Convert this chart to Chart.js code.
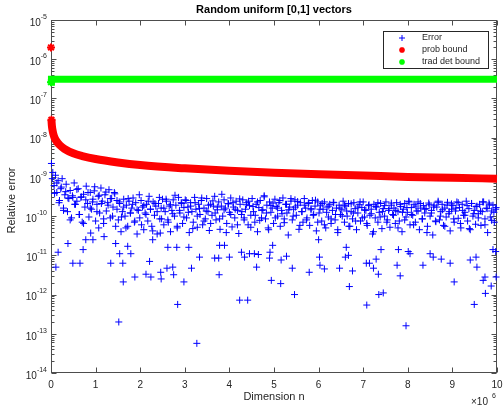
<!DOCTYPE html>
<html>
<head>
<meta charset="utf-8">
<title>Random uniform [0,1] vectors</title>
<script src="https://cdn.jsdelivr.net/npm/chart.js@4.4.1/dist/chart.umd.min.js"></script>
<style>
  html, body { margin: 0; padding: 0; background: #fff; }
  #wrap { width: 503px; height: 406px; }
</style>
</head>
<body>
<div id="wrap"><canvas id="chart" width="503" height="406"></canvas></div>
<script>
// Dimension n, in units of 10^6
const xTicks = [0, 1, 2, 3, 4, 5, 6, 7, 8, 9, 10];
// Decades on the relative error axis
const yExps = [-14, -13, -12, -11, -10, -9, -8, -7, -6, -5];

// Error samples (dense part)
const errX = [
  0.01,0.04,0.07,0.1,0.13,0.16,0.19,0.22,0.25,0.28,
  0.31,0.34,0.37,0.4,0.43,0.46,0.49,0.52,0.55,0.58,
  0.61,0.64,0.67,0.7,0.73,0.76,0.79,0.82,0.85,0.88,
  0.91,0.94,0.97,1,1.03,1.06,1.09,1.12,1.15,1.18,
  1.21,1.24,1.27,1.3,1.33,1.36,1.39,1.42,1.45,1.48,
  1.51,1.54,1.57,1.6,1.63,1.66,1.69,1.72,1.75,1.78,
  1.81,1.84,1.87,1.9,1.93,1.96,1.99,2.02,2.05,2.08,
  2.11,2.14,2.17,2.2,2.23,2.26,2.29,2.32,2.35,2.38,
  2.41,2.44,2.47,2.5,2.53,2.56,2.59,2.62,2.65,2.68,
  2.71,2.74,2.77,2.8,2.83,2.86,2.89,2.92,2.95,2.98,
  3.01,3.04,3.07,3.1,3.13,3.16,3.19,3.22,3.25,3.28,
  3.31,3.34,3.37,3.4,3.43,3.46,3.49,3.52,3.55,3.58,
  3.61,3.64,3.67,3.7,3.73,3.76,3.79,3.82,3.85,3.88,
  3.91,3.94,3.97,4,4.03,4.06,4.09,4.12,4.15,4.18,
  4.21,4.24,4.27,4.3,4.33,4.36,4.39,4.42,4.45,4.48,
  4.51,4.54,4.57,4.6,4.63,4.66,4.69,4.72,4.75,4.78,
  4.81,4.84,4.87,4.9,4.93,4.96,4.99,5.02,5.05,5.08,
  5.11,5.14,5.17,5.2,5.23,5.26,5.29,5.32,5.35,5.38,
  5.41,5.44,5.47,5.5,5.53,5.56,5.59,5.62,5.65,5.68,
  5.71,5.74,5.77,5.8,5.83,5.86,5.89,5.92,5.95,5.98,
  6.01,6.04,6.07,6.1,6.13,6.16,6.19,6.22,6.25,6.28,
  6.31,6.34,6.37,6.4,6.43,6.46,6.49,6.52,6.55,6.58,
  6.61,6.64,6.67,6.7,6.73,6.76,6.79,6.82,6.85,6.88,
  6.91,6.94,6.97,7,7.03,7.06,7.09,7.12,7.15,7.18,
  7.21,7.24,7.27,7.3,7.33,7.36,7.39,7.42,7.45,7.48,
  7.51,7.54,7.57,7.6,7.63,7.66,7.69,7.72,7.75,7.78,
  7.81,7.84,7.87,7.9,7.93,7.96,7.99,8.02,8.05,8.08,
  8.11,8.14,8.17,8.2,8.23,8.26,8.29,8.32,8.35,8.38,
  8.41,8.44,8.47,8.5,8.53,8.56,8.59,8.62,8.65,8.68,
  8.71,8.74,8.77,8.8,8.83,8.86,8.89,8.92,8.95,8.98,
  9.01,9.04,9.07,9.1,9.13,9.16,9.19,9.22,9.25,9.28,
  9.31,9.34,9.37,9.4,9.43,9.46,9.49,9.52,9.55,9.58,
  9.61,9.64,9.67,9.7,9.73,9.76,9.79,9.82,9.85,9.88,
  9.91,9.94,9.97
];
const errY = [
  2.2e-9,1.3e-9,6e-10,1.1e-9,4e-10,8e-10,2.5e-10,5e-10,9e-10,1.6e-10,
  3.5e-10,6.5e-10,1.3e-10,2.8e-10,4.5e-10,9e-11,3e-10,7e-10,2e-10,2.4e-10,
  5e-10,1.1e-10,3e-10,7e-11,3.6e-10,1.7e-10,5.8e-10,2.1e-10,9.5e-11,4e-10,
  1.5e-10,2.7e-10,4.4e-10,7.5e-11,2e-10,3.2e-10,1.2e-10,5.2e-10,2.4e-10,6.5e-11,
  3.5e-10,1.35e-10,2.2e-10,4.7e-10,9e-11,2.8e-10,1.7e-10,4e-10,5.5e-11,2.5e-10,
  8e-11,2.1e-10,4e-11,1.3e-10,2.7e-10,1e-10,1.9e-10,5.5e-11,2.4e-10,1.2e-10,
  1.6e-10,2.9e-10,7e-11,2.2e-10,3.5e-11,1.4e-10,9e-11,2.5e-10,1.7e-10,4.5e-11,
  1.2e-10,2e-10,7.5e-11,3.2e-10,1.5e-10,5.5e-11,2.3e-10,1.05e-10,1.8e-10,3.5e-11,
  2.1e-10,8.5e-11,1.6e-10,2.7e-10,6e-11,1.3e-10,2.4e-10,8e-11,1.8e-10,4e-11,
  1.4e-10,2.6e-10,1e-10,1.9e-10,5e-11,3e-10,1.2e-10,2.2e-10,6.5e-11,1.65e-10,
  2.6e-10,9e-11,1.7e-10,3.8e-11,2.2e-10,1.3e-10,7e-11,3e-10,1.5e-10,5.2e-11,
  2e-10,1.1e-10,2.5e-10,6e-11,1.6e-10,8.5e-11,2.8e-10,1.3e-10,4.3e-11,2e-10,
  1.05e-10,1.8e-10,3.2e-10,8e-11,1.45e-10,2.3e-10,4.6e-11,1.8e-10,1e-10,2.6e-10,
  1.6e-10,6.5e-11,2.1e-10,1.25e-10,2.9e-10,5.3e-11,1.7e-10,9e-11,2.4e-10,1.4e-10,
  3.6e-11,2e-10,1.1e-10,2.6e-10,8e-11,1.5e-10,2.2e-10,6e-11,1.85e-10,1.05e-10,
  2.8e-10,1.3e-10,7e-11,2e-10,4e-11,1.65e-10,2.5e-10,9e-11,1.45e-10,3.1e-10,
  8.5e-11,1.9e-10,5e-11,2.3e-10,1.25e-10,1.6e-10,6.5e-11,2.7e-10,1.75e-10,1e-10,
  2.2e-10,5.5e-11,1.4e-10,2.9e-10,8.5e-11,2e-10,1.2e-10,3.3e-11,1.7e-10,2.4e-10,
  8e-11,1.5e-10,2.6e-10,1.05e-10,1.9e-10,4.6e-11,2.2e-10,1.3e-10,7e-11,2.8e-10,
  1.6e-10,9e-11,2.1e-10,5.8e-11,1.45e-10,2.5e-10,1.1e-10,1.8e-10,4.2e-11,2.3e-10,
  1.2e-10,1.9e-10,7.5e-11,1.5e-10,2.3e-10,5e-11,1.7e-10,9.5e-11,2e-10,6.5e-11,
  1.4e-10,2.2e-10,8e-11,1.6e-10,3.8e-11,1.9e-10,1.1e-10,1.45e-10,2.4e-10,7e-11,
  1.8e-10,1e-10,2.1e-10,5.5e-11,1.3e-10,8.5e-11,2.2e-10,1.55e-10,4.5e-11,1.2e-10,
  1.95e-10,7.5e-11,1.65e-10,2.3e-10,9.5e-11,1.4e-10,5.8e-11,1.85e-10,1.05e-10,1.5e-10,
  3.5e-11,2e-10,9e-11,1.7e-10,7e-11,1.25e-10,2.1e-10,4.8e-11,1.55e-10,1e-10,
  2.3e-10,8e-11,1.4e-10,5.2e-11,1.9e-10,1.1e-10,1.6e-10,6.5e-11,2.2e-10,1.3e-10,
  7.5e-11,1.75e-10,4e-11,1.5e-10,2.1e-10,9.5e-11,1.25e-10,2.4e-10,6e-11,1.65e-10,
  1.05e-10,2e-10,7e-11,1.35e-10,2.3e-10,4.5e-11,1.6e-10,8.5e-11,1.85e-10,1.2e-10,
  1.55e-10,5.5e-11,2.15e-10,1e-10,1.4e-10,3.3e-11,1.9e-10,7.5e-11,1.7e-10,2.4e-10,
  8e-11,1.3e-10,2e-10,5.8e-11,1.6e-10,9.5e-11,2.25e-10,1.15e-10,4.2e-11,1.5e-10,
  1.85e-10,7e-11,1.35e-10,2.3e-10,8.8e-11,1.65e-10,5e-11,2e-10,1.05e-10,1.25e-10,
  2.4e-10,7.5e-11,1.55e-10,4.5e-11,2.1e-10,1e-10,1.4e-10,6.2e-11,1.8e-10,1.15e-10,
  2e-10,5.8e-11,1.3e-10,2.3e-10,8.5e-11,1.6e-10,3.8e-11,2.15e-10,9.5e-11,1.35e-10,
  1.9e-10,7e-11,1.5e-10
];

// Error samples (second pass through the band)
const err2X = [
  0.03,0.08,0.13,0.18,0.23,0.28,0.33,0.38,0.43,0.48,
  0.53,0.58,0.63,0.68,0.73,0.78,0.83,0.88,0.93,0.98,
  1.03,1.08,1.13,1.18,1.23,1.28,1.33,1.38,1.43,1.48,
  1.53,1.58,1.63,1.68,1.73,1.78,1.83,1.88,1.93,1.98,
  2.03,2.08,2.13,2.18,2.23,2.28,2.33,2.38,2.43,2.48,
  2.53,2.58,2.63,2.68,2.73,2.78,2.83,2.88,2.93,2.98,
  3.03,3.08,3.13,3.18,3.23,3.28,3.33,3.38,3.43,3.48,
  3.53,3.58,3.63,3.68,3.73,3.78,3.83,3.88,3.93,3.98,
  4.03,4.08,4.13,4.18,4.23,4.28,4.33,4.38,4.43,4.48,
  4.53,4.58,4.63,4.68,4.73,4.78,4.83,4.88,4.93,4.98,
  5.03,5.08,5.13,5.18,5.23,5.28,5.33,5.38,5.43,5.48,
  5.53,5.58,5.63,5.68,5.73,5.78,5.83,5.88,5.93,5.98,
  6.03,6.08,6.13,6.18,6.23,6.28,6.33,6.38,6.43,6.48,
  6.53,6.58,6.63,6.68,6.73,6.78,6.83,6.88,6.93,6.98,
  7.03,7.08,7.13,7.18,7.23,7.28,7.33,7.38,7.43,7.48,
  7.53,7.58,7.63,7.68,7.73,7.78,7.83,7.88,7.93,7.98,
  8.03,8.08,8.13,8.18,8.23,8.28,8.33,8.38,8.43,8.48,
  8.53,8.58,8.63,8.68,8.73,8.78,8.83,8.88,8.93,8.98,
  9.03,9.08,9.13,9.18,9.23,9.28,9.33,9.38,9.43,9.48,
  9.53,9.58,9.63,9.68,9.73,9.78,9.83,9.88,9.93,9.98
];
const err2Y = [
  9e-10,3.8e-10,7e-10,2.2e-10,5.5e-10,1.4e-10,4.2e-10,2.9e-10,8e-11,3.3e-10,
  2e-10,4.8e-10,1.1e-10,3.1e-10,6.5e-11,2.6e-10,4e-10,1.6e-10,2.3e-10,5.6e-10,
  1.3e-10,3.4e-10,2.1e-10,8.5e-11,4.1e-10,1.9e-10,2.8e-10,1e-10,3.7e-10,1.5e-10,
  2.3e-10,9.5e-11,1.7e-10,5e-11,2.8e-10,1.2e-10,2e-10,7.5e-11,1.45e-10,3.5e-10,
  6e-11,1.85e-10,1.1e-10,2.4e-10,1.5e-10,4.2e-11,2.1e-10,1.3e-10,3e-10,8.5e-11,
  1.6e-10,2.7e-10,7e-11,1.95e-10,1.15e-10,3.4e-10,5.5e-11,1.4e-10,2.1e-10,9.5e-11,
  2.5e-10,1.25e-10,1.8e-10,4.8e-11,2.2e-10,1e-10,1.55e-10,2.9e-10,7.5e-11,1.35e-10,
  1.9e-10,6.5e-11,2.45e-10,1.2e-10,1.7e-10,8.5e-11,3.6e-10,1.45e-10,3.8e-11,2.05e-10,
  1.1e-10,2.2e-10,1.5e-10,6e-11,2.75e-10,1.3e-10,9e-11,1.95e-10,2.4e-10,5.2e-11,
  1.75e-10,1.05e-10,2.3e-10,7.8e-11,1.4e-10,3.3e-10,1.2e-10,4.5e-11,1.85e-10,2.15e-10,
  9e-11,1.6e-10,2.5e-10,1.15e-10,6.8e-11,2e-10,1.45e-10,2.8e-10,1e-10,1.7e-10,
  2.35e-10,5.8e-11,1.3e-10,1.9e-10,8e-11,2.2e-10,1.55e-10,1.05e-10,2.55e-10,7e-11,
  1.5e-10,2.1e-10,6e-11,1.25e-10,1.8e-10,8.5e-11,2.25e-10,1.1e-10,4.5e-11,1.6e-10,
  1e-10,1.9e-10,1.35e-10,5.5e-11,2.05e-10,1.2e-10,7.5e-11,1.7e-10,2.3e-10,9e-11,
  1.45e-10,6.5e-11,1.95e-10,1.15e-10,4e-11,1.75e-10,2.2e-10,9.5e-11,1.3e-10,1.85e-10,
  7e-11,1.55e-10,2.15e-10,1.05e-10,1.4e-10,5e-11,2e-10,1.25e-10,8e-11,1.65e-10,
  2.3e-10,1.1e-10,6e-11,1.8e-10,1.35e-10,2.1e-10,8.5e-11,1.5e-10,3.8e-11,1.95e-10,
  1.2e-10,1.7e-10,7.2e-11,2.25e-10,1e-10,1.45e-10,5.5e-11,1.9e-10,1.3e-10,2.05e-10,
  8.5e-11,1.6e-10,2.2e-10,6.5e-11,1.4e-10,1.05e-10,1.85e-10,4.8e-11,2.1e-10,1.15e-10,
  1.75e-10,9e-11,1.35e-10,2.3e-10,6e-11,1.55e-10,1.95e-10,7.8e-11,1.25e-10,1.65e-10
];

// Error samples lying away from the main band
const outX = [
  0, 0.16, 0.11, 0.38, 0.49, 0.65, 0.72, 0.78, 0.89, 0.94, 1.07, 1.19, 1.34, 1.45,
  1.54, 1.52, 1.61, 1.62, 1.72, 1.79, 1.88, 2.13, 2.21, 2.24, 2.28, 2.46, 2.47, 2.45,
  2.6, 2.73, 2.75, 2.84, 2.98, 3.15, 3.27, 3.33, 3.67, 3.76, 3.77, 4.0, 4.23, 4.41,
  4.27, 4.34, 4.45, 4.56, 4.65, 4.61, 4.9, 4.94, 4.91, 4.97, 3.78, 3.89, 2.62, 2.82,
  3.09, 5.15, 5.46, 5.16, 5.28, 5.41, 5.79, 6.02, 6.03, 6.13, 6.47, 6.6, 6.69, 6.76,
  7.07, 7.14, 7.08, 7.23, 7.29, 7.34, 7.35, 7.45, 7.4, 6.0, 6.62, 6.67, 7.76, 7.83,
  7.96, 8.34, 8.01, 7.79, 8.05, 8.5, 8.57, 8.75, 8.95, 9.04, 9.4, 9.53, 9.55, 9.49,
  9.69, 9.73, 9.74, 9.87, 9.98, 9.91, 9.97
];
const outY = [
  2.6e-7, 1.2e-11, 5e-12, 2e-11, 6.3e-12, 6.3e-12, 1.4e-11, 2.5e-11, 3.7e-11, 2.5e-11, 5e-11, 3e-11, 6.3e-12, 2e-11,
  1.1e-11, 2e-13, 6.3e-12, 2.1e-12, 1.7e-11, 1.1e-11, 2.8e-12, 3.3e-12, 7e-12, 2.8e-12, 2.5e-11, 3.7e-12, 2.5e-12, 3.7e-11,
  4.7e-12, 5e-12, 3.2e-12, 5.6e-13, 2.1e-12, 4.7e-12, 5.7e-14, 9e-12, 8.5e-12, 8.5e-12, 3.2e-12, 9e-12, 7.2e-13, 7.2e-13,
  1.2e-11, 9e-12, 1.1e-11, 1.1e-11, 1.05e-11, 5e-12, 8.5e-12, 2.3e-12, 1.2e-11, 1.8e-11, 1.8e-11, 1.8e-11, 1.6e-11, 1.6e-11,
  1.6e-11, 1.9e-12, 1e-12, 7.6e-12, 9.5e-12, 4.7e-12, 3.7e-12, 9e-12, 5.6e-12, 4.5e-12, 4.7e-12, 9e-12, 1.6e-12, 4e-12,
  6.3e-12, 6.3e-12, 5.4e-13, 4.7e-12, 8e-12, 3.3e-12, 1e-12, 1.1e-12, 1.4e-11, 2.5e-11, 1.6e-11, 1e-11, 5.6e-12, 3e-12,
  1.6e-13, 5.6e-12, 1.25e-11, 1.4e-11, 1.1e-11, 1.1e-11, 9e-12, 8e-12, 6.3e-12, 2.1e-12, 7.6e-12, 9e-12, 5e-12, 5.6e-13,
  2.3e-12, 2.8e-12, 1.07e-12, 1.65e-12, 2.8e-12, 1.4e-11, 1.25e-11
];

// Probabilistic bound (null leaves the gap after n = 1)
const probX = [0, 0.005, 0.01, 0.02, 0.03, 0.05, 0.08, 0.12, 0.2, 0.3, 0.5, 0.7, 1, 1.5, 2, 3, 4, 5, 6, 7, 8, 9, 10];
const probY = [2e-6, null, 2.85e-8, 2e-8, 1.65e-8, 1.27e-8, 1e-8, 8.2e-9, 6.4e-9, 5.2e-9, 4e-9, 3.4e-9, 2.85e-9,
  2.33e-9, 2e-9, 1.65e-9, 1.43e-9, 1.27e-9, 1.16e-9, 1.08e-9, 1e-9, 9.5e-10, 9e-10];

// Traditional deterministic bound
const tradX = [0, 0.01, 2, 4, 6, 8, 10];
const tradY = [2.6e-7, 3.1e-7, 3.1e-7, 3.1e-7, 3.1e-7, 3.1e-7, 3.1e-7];

const FONT = '"Liberation Sans", Arial, Helvetica, sans-serif';
const AXIS_COLOR = '#4d4d4d';
const TEXT_COLOR = '#262626';

const zip = (xs, ys) => xs.map((x, i) => ({ x: x, y: ys[i] }));

// MATLAB style box, inside ticks, labels and legend
const matlabAxes = {
    id: 'matlabAxes',
    beforeDatasetsDraw(chart) {
        const { ctx, chartArea: a, scales: { x, y } } = chart;
        const L = Math.round(a.left) + 0.5, R = Math.round(a.right) - 0.5;
        const T = Math.round(a.top) + 0.5, B = Math.round(a.bottom) - 0.5;
        ctx.save();
        ctx.strokeStyle = AXIS_COLOR;
        ctx.lineWidth = 1;
        ctx.beginPath();
        xTicks.forEach(v => {
            const px = Math.round(x.getPixelForValue(v)) + 0.5;
            ctx.moveTo(px, B); ctx.lineTo(px, B - 5);
            ctx.moveTo(px, T); ctx.lineTo(px, T + 5);
        });
        yExps.forEach((e, i) => {
            const last = i === yExps.length - 1;
            for (let m = 1; m <= (last ? 1 : 9); m++) {
                const py = Math.round(y.getPixelForValue(m * Math.pow(10, e))) + 0.5;
                const len = m === 1 ? 5 : 3;
                ctx.moveTo(L, py); ctx.lineTo(L + len, py);
                ctx.moveTo(R, py); ctx.lineTo(R - len, py);
            }
        });
        ctx.stroke();
        ctx.strokeRect(L, T, R - L, B - T);
        ctx.restore();
    },
    afterDraw(chart) {
        const { ctx, chartArea: a, scales: { x, y } } = chart;
        ctx.save();
        ctx.fillStyle = TEXT_COLOR;

        // x tick labels
        ctx.font = '10px ' + FONT;
        ctx.textAlign = 'center';
        ctx.textBaseline = 'middle';
        xTicks.forEach(v => ctx.fillText(String(v), x.getPixelForValue(v), a.bottom + 12));

        // y tick labels: 10 with superscript exponent
        yExps.forEach(e => {
            const py = y.getPixelForValue(Math.pow(10, e));
            const exp = String(e);
            ctx.font = '7px ' + FONT;
            ctx.textAlign = 'right';
            const w = ctx.measureText(exp).width;
            ctx.fillText(exp, a.left - 4, py - 3);
            ctx.font = '10px ' + FONT;
            ctx.fillText('10', a.left - 4 - w, py + 3);
        });

        // x multiplier
        ctx.font = '10px ' + FONT;
        ctx.textAlign = 'left';
        ctx.fillText('\u00d710', a.right - 26, a.bottom + 29);
        ctx.font = '7px ' + FONT;
        ctx.fillText('6', a.right - 5, a.bottom + 23);

        // title and axis titles
        ctx.textAlign = 'center';
        ctx.font = 'bold 11px ' + FONT;
        ctx.fillStyle = '#000';
        ctx.fillText('Random uniform [0,1] vectors', (a.left + a.right) / 2, a.top - 10);
        ctx.fillStyle = TEXT_COLOR;
        ctx.font = '11px ' + FONT;
        ctx.fillText('Dimension n', (a.left + a.right) / 2, a.bottom + 24);
        ctx.save();
        ctx.translate(12, (a.top + a.bottom) / 2 + 4);
        ctx.rotate(-Math.PI / 2);
        ctx.fillText('Relative error', 0, 0);
        ctx.restore();

        // legend box
        const bx = 383.5, by = 31.5, bw = 105, bh = 37;
        ctx.fillStyle = '#fff';
        ctx.fillRect(bx, by, bw, bh);
        ctx.strokeStyle = TEXT_COLOR;
        ctx.lineWidth = 1;
        ctx.strokeRect(bx, by, bw, bh);
        ctx.font = '9px ' + FONT;
        ctx.textAlign = 'left';
        chart.data.datasets.forEach((ds, i) => {
            const ly = 38 + i * 12;
            ctx.strokeStyle = ds.legendColor;
            ctx.lineWidth = ds.legendStyle === 'cross' ? 1 : 1.5;
            Chart.helpers.drawPoint(ctx, { pointStyle: ds.legendStyle, radius: 3, borderWidth: ctx.lineWidth, rotation: 0 }, 402, ly);
            ctx.fillStyle = TEXT_COLOR;
            ctx.fillText(ds.label, 422, ly);
        });
        ctx.restore();
    }
};

const ctx = document.getElementById('chart').getContext('2d');
const chart = new Chart(ctx, {
    type: 'scatter',
    data: {
        datasets: [
            {
                label: 'Error',
                data: zip(errX, errY).concat(zip(err2X, err2Y), zip(outX, outY)),
                showLine: false,
                pointStyle: 'cross',
                pointRadius: 3.5,
                borderColor: '#0000ff',
                backgroundColor: '#0000ff',
                borderWidth: 1,
                legendColor: '#0000ff',
                legendStyle: 'cross',
                clip: false,
                order: 3
            },
            {
                label: 'prob bound',
                data: zip(probX, probY),
                showLine: true,
                spanGaps: false,
                cubicInterpolationMode: 'monotone',
                borderColor: '#ff0000',
                backgroundColor: '#ff0000',
                borderWidth: 8,
                pointStyle: 'star',
                pointRadius: c => (c.dataIndex <= 2 ? 4 : 0),
                pointBorderWidth: 2,
                legendColor: '#ff0000',
                legendStyle: 'star',
                clip: false,
                order: 2
            },
            {
                label: 'trad det bound',
                data: zip(tradX, tradY),
                showLine: true,
                borderColor: '#00ff00',
                backgroundColor: '#00ff00',
                borderWidth: 7,
                pointStyle: 'star',
                pointRadius: c => (c.dataIndex === 0 ? 4 : 0),
                pointBorderWidth: 2,
                legendColor: '#00ff00',
                legendStyle: 'star',
                clip: false,
                order: 1
            }
        ]
    },
    options: {
        responsive: false,
        animation: false,
        layout: {
            padding: { left: 51, right: 5, top: 20, bottom: 33 }
        },
        plugins: {
            legend: { display: false },
            tooltip: { enabled: false },
            title: { display: false }
        },
        scales: {
            x: { type: 'linear', min: 0, max: 10, display: false },
            y: { type: 'logarithmic', min: 1e-14, max: 1e-5, display: false }
        }
    },
    plugins: [matlabAxes]
});
</script>
</body>
</html>
